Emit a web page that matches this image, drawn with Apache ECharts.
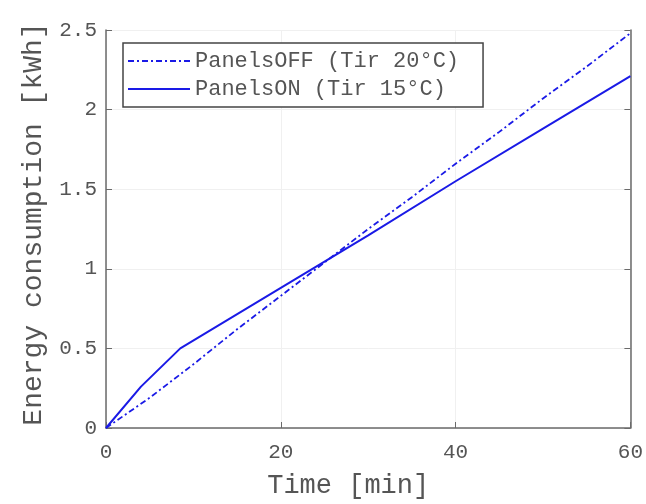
<!DOCTYPE html>
<html>
<head>
<meta charset="utf-8">
<script src="https://cdn.jsdelivr.net/npm/echarts@6/dist/echarts.min.js"></script>
<style>
  html, body { margin: 0; padding: 0; background: #fff; }
  #chart { width: 646px; height: 504px; }
</style>
</head>
<body>
<div id="chart"></div>
<script>
// Energy use over time with heating panels off / on
const offTime = [0, 5, 10, 15, 20, 25, 30, 35, 40, 45, 50, 55, 60];
const offEnergy = [0, 0.19, 0.40, 0.62, 0.83, 1.04, 1.25, 1.45, 1.66, 1.86, 2.07, 2.27, 2.48];
const onTime = [0, 4, 8.5, 20, 30, 40, 50, 60];
const onEnergy = [0, 0.26, 0.50, 0.88, 1.21, 1.55, 1.88, 2.21];
const seriesNames = ['PanelsOFF (Tir 20°C)', 'PanelsON (Tir 15°C)'];
const xTicks = [0, 20, 40, 60];
const yTicks = [0, 0.5, 1, 1.5, 2, 2.5];

const pair = (xs, ys) => xs.map((x, i) => [x, ys[i]]);
const mono = 'Liberation Mono, DejaVu Sans Mono, monospace';
const blue = '#1a1ae6';
const axisGray = '#6a6a6a';
const textGray = '#555';

const chart = echarts.init(document.getElementById('chart'), null, { renderer: 'canvas' });
chart.setOption({
  backgroundColor: '#fff',
  animation: false,
  grid: { left: 106, right: 12, top: 30, bottom: 72 },
  legend: {
    orient: 'vertical',
    left: 123,
    top: 43,
    padding: [7, 24, 7, 4],
    itemGap: 6,
    itemWidth: 62,
    itemHeight: 12,
    borderColor: '#444',
    borderWidth: 1.5,
    backgroundColor: '#fff',
    itemStyle: { opacity: 0 },
    textStyle: { fontFamily: mono, fontSize: 22, color: textGray },
    data: seriesNames
  },
  xAxis: {
    type: 'value',
    min: 0, max: 60, interval: 20,
    name: 'Time [min]',
    nameLocation: 'middle',
    nameGap: 44,
    nameTextStyle: { fontFamily: mono, fontSize: 27, color: textGray, padding: [0, 40, 0, 0] },
    axisLine: { show: true, lineStyle: { color: axisGray, width: 1.5 } },
    axisTick: { show: true, inside: true, length: 6, lineStyle: { color: axisGray } },
    axisLabel: { fontFamily: mono, fontSize: 21, color: textGray, margin: 14,
      formatter: v => xTicks.includes(v) ? String(v) : '' },
    splitLine: { show: true, lineStyle: { color: '#f0f0f0', width: 1 } }
  },
  yAxis: [{
    type: 'value',
    min: 0, max: 2.5, interval: 0.5,
    name: 'Energy consumption [kWh]',
    nameLocation: 'middle',
    nameGap: 58,
    nameTextStyle: { fontFamily: mono, fontSize: 28, color: textGray, padding: [0, 0, 0, 10] },
    axisLine: { show: true, lineStyle: { color: axisGray, width: 1.5 } },
    axisTick: { show: true, inside: true, length: 6, lineStyle: { color: axisGray } },
    axisLabel: { fontFamily: mono, fontSize: 21, color: textGray, margin: 9,
      formatter: v => yTicks.includes(v) ? String(v) : '' },
    splitLine: { show: true, lineStyle: { color: '#f0f0f0', width: 1 } }
  }, {
    type: 'value',
    position: 'right',
    min: 0, max: 2.5, interval: 0.5,
    axisLine: { show: true, lineStyle: { color: axisGray, width: 1.5 } },
    axisTick: { show: true, inside: true, length: 6, lineStyle: { color: axisGray } },
    axisLabel: { show: false },
    splitLine: { show: false }
  }],
  series: [{
    name: seriesNames[0],
    type: 'line',
    data: pair(offTime, offEnergy),
    showSymbol: false,
    symbol: 'none',
    lineStyle: { color: blue, width: 1.8, type: [6, 3, 2, 3] },
    itemStyle: { color: blue }
  }, {
    name: seriesNames[1],
    type: 'line',
    data: pair(onTime, onEnergy),
    showSymbol: false,
    symbol: 'none',
    lineStyle: { color: blue, width: 2 },
    itemStyle: { color: blue }
  }]
});
</script>
</body>
</html>
